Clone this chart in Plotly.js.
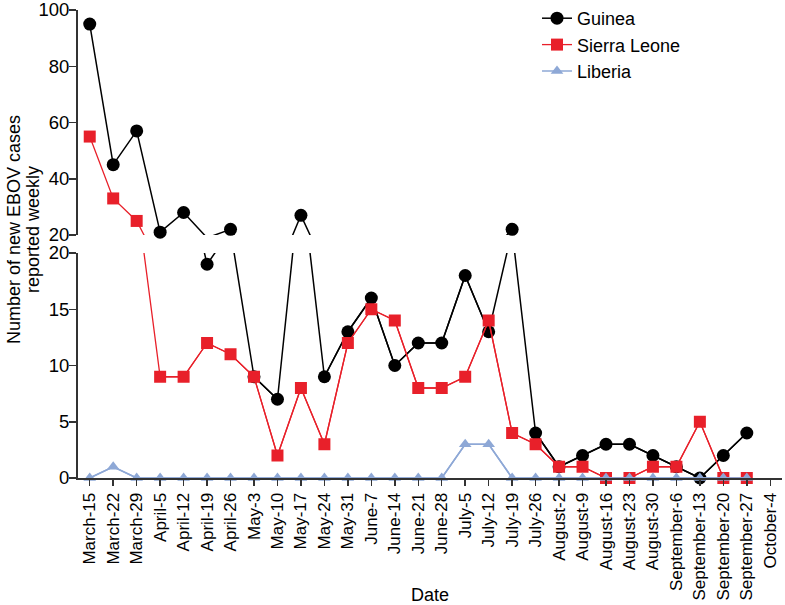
<!DOCTYPE html>
<html>
<head>
<meta charset="utf-8">
<script src="https://cdn.plot.ly/plotly-3.0.1.min.js"></script>
<style>html,body{margin:0;padding:0;background:#fff;}#chart{width:785px;height:605px;}</style>
</head>
<body>
<div id="chart"></div>
<script>
var dates = ["March-15","March-22","March-29","April-5","April-12","April-19","April-26","May-3","May-10","May-17","May-24","May-31","June-7","June-14","June-21","June-28","July-5","July-12","July-19","July-26","August-2","August-9","August-16","August-23","August-30","September-6","September-13","September-20","September-27","October-4"];
var guinea = [95,45,57,21,28,19,22,9,7,27,9,13,16,10,12,12,18,13,22,4,1,2,3,3,2,1,0,2,4,null];
var sierraLeone = [55,33,25,9,9,12,11,9,2,8,3,12,15,14,8,8,9,14,4,3,1,1,0,0,1,1,5,0,0,null];
var liberia = [0,1,0,0,0,0,0,0,0,0,0,0,0,0,0,0,3,3,0,0,0,0,0,0,0,0,0,0,0,null];
var seriesNames = ["Guinea","Sierra Leone","Liberia"];
var breakValue = 20;
var lowerTicks = [0,5,10,15,20];
var upperTicks = [20,40,60,80,100];
var yTitleLines = ["Number of new EBOV cases","reported weekly"];

var styles = [
  {color:"#000000", symbol:"circle", size:13, width:1.5},
  {color:"#E8202A", symbol:"square", size:12, width:1.3},
  {color:"#8EA8D6", symbol:"triangle-up", size:11, width:1.5}
];
var allSeries = [guinea, sierraLeone, liberia];
var traces = [];
allSeries.forEach(function(vals, i){
  var st = styles[i];
  var low = vals.map(function(v){ return (v!==null && v<=breakValue) ? v : null; });
  var high = vals.map(function(v){ return (v!==null && v>breakValue) ? v : null; });
  traces.push({x:dates, y:vals, type:"scatter", mode:"lines", xaxis:"x", yaxis:"y",
    line:{color:st.color, width:st.width}, showlegend:false, hoverinfo:"skip", legendgroup:seriesNames[i]});
  traces.push({x:dates, y:vals, type:"scatter", mode:"lines", xaxis:"x", yaxis:"y2",
    line:{color:st.color, width:st.width}, showlegend:false, hoverinfo:"skip", legendgroup:seriesNames[i]});
  traces.push({x:dates, y:high, type:"scatter", mode:"markers", xaxis:"x", yaxis:"y2", cliponaxis:false,
    marker:{color:st.color, symbol:st.symbol, size:st.size}, showlegend:false, legendgroup:seriesNames[i], name:seriesNames[i]});
  traces.push({x:dates, y:low, type:"scatter", mode:"lines+markers", xaxis:"x", yaxis:"y", cliponaxis:false,
    line:{color:st.color, width:st.width},
    marker:{color:st.color, symbol:st.symbol, size:st.size}, showlegend:true, legendgroup:seriesNames[i], name:seriesNames[i]});
});

var axisColor = "#333333";
var fontFam = "Liberation Sans, Arial, sans-serif";
var lowerTop = 225/468, upperBottom = 243/468;
var plotW = 704, plotH = 468, marginL = 78, marginT = 10;

var layout = {
  width:785, height:605,
  margin:{l:marginL, r:3, t:marginT, b:127, autoexpand:false},
  paper_bgcolor:"#ffffff", plot_bgcolor:"#ffffff",
  font:{family:fontFam, color:"#000000"},
  showlegend:true,
  legend:{x:0.652, y:1.0, yref:"container", xanchor:"left", yanchor:"top", font:{size:18, family:fontFam}, bgcolor:"rgba(0,0,0,0)", traceorder:"normal", itemwidth:30, tracegroupgap:0},
  xaxis:{type:"category", categoryorder:"array", categoryarray:dates, range:[-0.5, 29.5],
    anchor:"y", showgrid:false, zeroline:false, showline:true, linecolor:axisColor, linewidth:2,
    ticks:"outside", ticklen:6, tickwidth:1.5, tickcolor:axisColor, tickangle:-90,
    tickfont:{size:17, family:fontFam, color:"#000"},
    title:{text:"Date", font:{size:18, family:fontFam, color:"#000"}, standoff:8}},
  yaxis:{domain:[0, lowerTop], range:[0, breakValue], anchor:"x", tickvals:lowerTicks,
    showgrid:false, zeroline:false, showline:true, linecolor:axisColor, linewidth:2,
    ticks:"outside", ticklen:7, tickwidth:1.5, tickcolor:axisColor, ticklabelstandoff:-4, ticklabeloverflow:"allow",
    tickfont:{size:18.5, family:fontFam, color:"#000"}},
  yaxis2:{domain:[upperBottom, 1], range:[breakValue, 100], anchor:"x", tickvals:upperTicks,
    showgrid:false, zeroline:false, showline:true, linecolor:axisColor, linewidth:2,
    ticks:"outside", ticklen:7, tickwidth:1.5, tickcolor:axisColor, ticklabelstandoff:-4, ticklabeloverflow:"allow",
    tickfont:{size:18.5, family:fontFam, color:"#000"}},
  annotations:[
    {text:yTitleLines[0], xref:"paper", yref:"paper",
      x:(14-marginL)/plotW, y:(marginT+plotH-230)/plotH, xanchor:"center", yanchor:"middle", textangle:-90, showarrow:false,
      font:{size:18, family:fontFam, color:"#000"}},
    {text:yTitleLines[1], xref:"paper", yref:"paper",
      x:(33-marginL)/plotW, y:(marginT+plotH-230)/plotH, xanchor:"center", yanchor:"middle", textangle:-90, showarrow:false,
      font:{size:18, family:fontFam, color:"#000"}}
  ]
};

Plotly.newPlot("chart", traces, layout, {displayModeBar:false, staticPlot:true});
</script>
</body>
</html>
